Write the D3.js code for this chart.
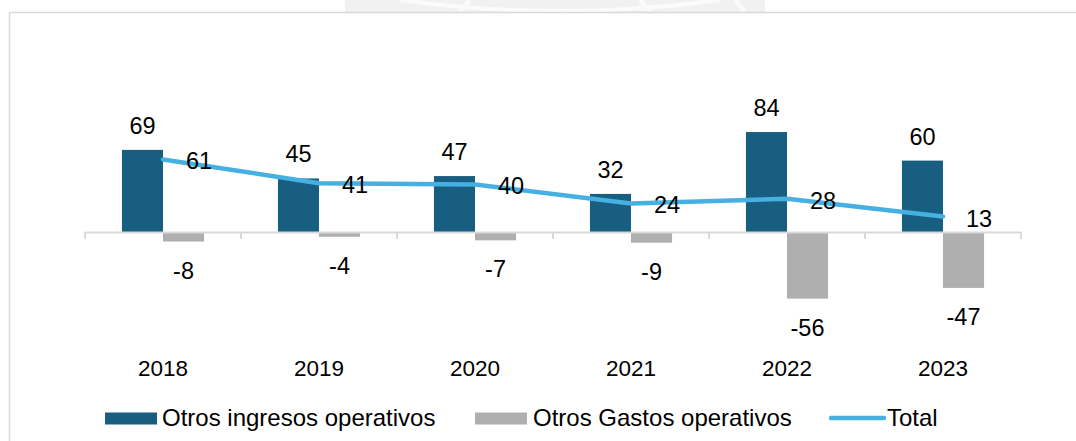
<!DOCTYPE html>
<html>
<head>
<meta charset="utf-8">
<script src="https://cdn.jsdelivr.net/npm/d3@7"></script>
<style>
  html, body { margin: 0; padding: 0; background: #ffffff; }
  svg { display: block; font-family: "Liberation Sans", Arial, sans-serif; }
</style>
</head>
<body>
<svg id="chart" width="1076" height="441"></svg>
<script>
const categories = ["2018", "2019", "2020", "2021", "2022", "2023"];
const ingresos = [69, 45, 47, 32, 84, 60];
const gastos = [-8, -4, -7, -9, -56, -47];
const total = [61, 41, 40, 24, 28, 13];
const seriesNames = ["Otros ingresos operativos", "Otros Gastos operativos", "Total"];

const colors = { ingresos: "#175e80", gastos: "#afafaf", total: "#45b0e1" };

const svg = d3.select("#chart");

// faint watermark above frame
const wm = svg.append("g");
wm.append("rect").attr("x", 345).attr("y", 0).attr("width", 420).attr("height", 12).attr("fill", "#f1f1f1");
wm.append("path").attr("d", "M 400 0 Q 560 22 720 0").attr("fill", "none").attr("stroke", "#fbfbfb").attr("stroke-width", 4);
wm.append("path").attr("d", "M 460 12 L 470 0 M 650 12 L 640 0 M 745 12 L 735 0").attr("stroke", "#fafafa").attr("stroke-width", 5);

// frame
svg.append("line").attr("x1", 9.5).attr("x2", 1076).attr("y1", 12.5).attr("y2", 12.5).attr("stroke", "#d9d9d9").attr("stroke-width", 1.5);
svg.append("line").attr("x1", 9.5).attr("x2", 9.5).attr("y1", 12.5).attr("y2", 441).attr("stroke", "#d9d9d9").attr("stroke-width", 1.5);

const x0 = d3.scaleBand().domain(categories).range([85, 1021]).paddingInner(0).paddingOuter(0);
const x1 = d3.scaleBand().domain(["ingresos", "gastos"]).range([0, x0.bandwidth()]).paddingInner(0).paddingOuter(0.9);
const y = d3.scaleLinear().domain([-80, 100]).range([232 + 80 * 1.19, 232 - 100 * 1.19]);

const data = categories.map((c, i) => ({ cat: c, ingresos: ingresos[i], gastos: gastos[i], total: total[i] }));

// bars
const g = svg.append("g");
["ingresos", "gastos"].forEach(key => {
  g.selectAll("rect." + key).data(data).enter().append("rect")
    .attr("class", key)
    .attr("x", d => x0(d.cat) + x1(key))
    .attr("width", x1.bandwidth())
    .attr("y", d => y(Math.max(0, d[key])))
    .attr("height", d => Math.abs(y(d[key]) - y(0)))
    .attr("fill", colors[key]);
});

// axis
const axis = d3.axisBottom(x0).tickSize(0).tickFormat("");
const ag = svg.append("g").attr("transform", `translate(0,${y(0)})`).call(axis);
ag.select(".domain").attr("stroke", "#d9d9d9").attr("stroke-width", 2);
const bounds = [85].concat(categories.map(c => x0(c) + x0.step()));
ag.selectAll("line.sep").data(bounds).enter().append("line")
  .attr("class", "sep").attr("x1", d => d).attr("x2", d => d).attr("y1", 0).attr("y2", 7)
  .attr("stroke", "#d9d9d9").attr("stroke-width", 2);

// category labels
svg.append("g").selectAll("text").data(categories).enter().append("text")
  .attr("x", d => x0(d) + x0.bandwidth() / 2)
  .attr("y", 376)
  .attr("text-anchor", "middle")
  .attr("font-size", 22.5)
  .attr("fill", "#000")
  .text(d => d);

// line
const cx = d => x0(d.cat) + x0.bandwidth() / 2;
const line = d3.line().x(cx).y(d => y(d.total));
svg.append("path").datum(data).attr("d", line).attr("fill", "none")
  .attr("stroke", colors.total).attr("stroke-width", 4.5).attr("stroke-linecap", "round").attr("stroke-linejoin", "round");

// data labels
const lab = svg.append("g").attr("font-size", 23.5).attr("fill", "#000").attr("text-anchor", "middle");
lab.selectAll("text.ing").data(data).enter().append("text")
  .attr("x", d => x0(d.cat) + x1("ingresos") + x1.bandwidth() / 2)
  .attr("y", d => y(d.ingresos) - 16)
  .text(d => d.ingresos);
lab.selectAll("text.gas").data(data).enter().append("text")
  .attr("x", d => x0(d.cat) + x1("gastos") + x1.bandwidth() / 2)
  .attr("y", d => y(d.gastos) + 37)
  .text(d => d.gastos);
lab.selectAll("text.tot").data(data).enter().append("text")
  .attr("x", d => cx(d) + 36)
  .attr("y", d => y(d.total) + 10)
  .text(d => d.total);

// legend
const lg = svg.append("g").attr("font-size", 24).attr("fill", "#000");
lg.append("rect").attr("x", 105).attr("y", 412.5).attr("width", 52).attr("height", 12).attr("fill", colors.ingresos);
lg.append("text").attr("x", 162).attr("y", 425.5).text(seriesNames[0]);
lg.append("rect").attr("x", 475).attr("y", 412.5).attr("width", 52).attr("height", 12).attr("fill", colors.gastos);
lg.append("text").attr("x", 533).attr("y", 425.5).text(seriesNames[1]);
lg.append("line").attr("x1", 831).attr("x2", 884).attr("y1", 418).attr("y2", 418)
  .attr("stroke", colors.total).attr("stroke-width", 4.5).attr("stroke-linecap", "round");
lg.append("text").attr("x", 887).attr("y", 425.5).text(seriesNames[2]);
</script>
</body>
</html>
